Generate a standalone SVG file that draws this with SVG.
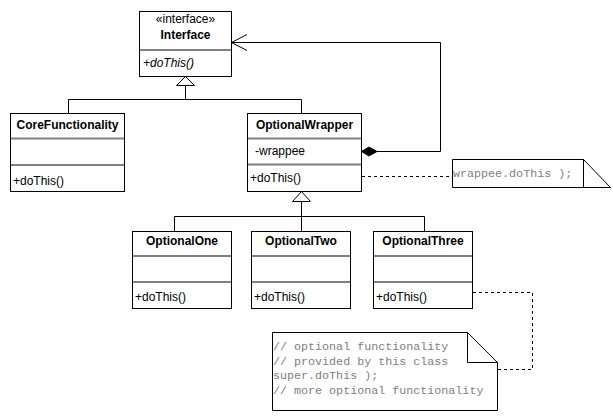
<svg xmlns="http://www.w3.org/2000/svg" width="613" height="420" viewBox="0 0 613 420">
<style>
.box{fill:#fff;stroke:#000;stroke-width:1}
.sep{stroke:#808080;stroke-width:2}
.t{font-family:"Liberation Sans",Arial,sans-serif;font-size:12px;fill:#000}
.b{font-weight:bold;text-anchor:middle}
.it{font-style:italic}
.ln{fill:none;stroke:#000;stroke-width:1}
.dash{fill:none;stroke:#000;stroke-width:1;stroke-dasharray:3,3}
.note{fill:#fff;stroke:#000;stroke-width:1}
.code{font-family:"Liberation Mono","Courier New",monospace;font-size:11.7px;fill:#808080}
</style>
<rect width="613" height="420" fill="#fff"/>
<g id="connectors">
<line class="ln" x1="185.5" y1="85" x2="185.5" y2="99.5"/>
<polyline class="ln" points="68.5,113 68.5,99.5 301.5,99.5 301.5,113"/>
<polygon points="185.5,76.5 176.5,85.5 194.5,85.5" fill="#fff" stroke="#000"/>
<polyline class="ln" points="377,151.5 440.5,151.5 440.5,42.5 231.5,42.5"/>
<polyline class="ln" points="247,34.5 231.5,42.5 247,50.5"/>
<polygon points="361.5,151.5 369,147 377,151.5 369,156" fill="#000" stroke="#000"/>
<line class="ln" x1="301.5" y1="201" x2="301.5" y2="231"/>
<polyline class="ln" points="174.5,231 174.5,216.5 424.5,216.5 424.5,231"/>
<polygon points="301.5,191.5 292.5,201.5 310.5,201.5" fill="#fff" stroke="#000"/>
<line class="dash" x1="362" y1="176.5" x2="452" y2="176.5"/>
<polyline class="dash" points="473,292.5 532.5,292.5 532.5,369.5 498,369.5"/>
</g>
<g id="interface">
<rect class="box" x="139.5" y="11.5" width="92" height="65"/>
<line class="sep" x1="140" y1="50" x2="231" y2="50"/>
<text class="t" x="185.5" y="23" text-anchor="middle">«interface»</text>
<text class="t b" x="185.5" y="39">Interface</text>
<text class="t it" x="143" y="67">+doThis()</text>
</g>
<g id="coreFunctionality">
<rect class="box" x="10.5" y="113.5" width="114" height="78"/>
<line class="sep" x1="11" y1="138.5" x2="124" y2="138.5"/>
<line class="sep" x1="11" y1="165" x2="124" y2="165"/>
<text class="t b" x="67.5" y="129">CoreFunctionality</text>
<text class="t" x="13" y="185">+doThis()</text>
</g>
<g id="optionalWrapper">
<rect class="box" x="247.5" y="113.5" width="114" height="78"/>
<line class="sep" x1="248" y1="138.5" x2="361" y2="138.5"/>
<line class="sep" x1="248" y1="164.5" x2="361" y2="164.5"/>
<text class="t b" x="304.5" y="129">OptionalWrapper</text>
<text class="t" x="255" y="155">-wrappee</text>
<text class="t" x="250" y="182">+doThis()</text>
</g>
<g id="note1">
<polygon class="note" points="452.5,159.5 583.5,159.5 610.5,187.5 452.5,187.5"/>
<polyline class="ln" points="583.5,159.5 583.5,187.5"/>
<text class="code" x="453" y="177">wrappee.doThis );</text>
</g>
<g id="optionalOne">
<rect class="box" x="132.5" y="231.5" width="99" height="77"/>
<line class="sep" x1="133" y1="256" x2="231" y2="256"/>
<line class="sep" x1="133" y1="282" x2="231" y2="282"/>
<text class="t b" x="182" y="245">OptionalOne</text>
<text class="t" x="135" y="301">+doThis()</text>
</g>
<g id="optionalTwo">
<rect class="box" x="251.5" y="231.5" width="99" height="77"/>
<line class="sep" x1="252" y1="256" x2="350" y2="256"/>
<line class="sep" x1="252" y1="282" x2="350" y2="282"/>
<text class="t b" x="301" y="245">OptionalTwo</text>
<text class="t" x="254" y="301">+doThis()</text>
</g>
<g id="optionalThree">
<rect class="box" x="373.5" y="231.5" width="99" height="77"/>
<line class="sep" x1="374" y1="256" x2="472" y2="256"/>
<line class="sep" x1="374" y1="282" x2="472" y2="282"/>
<text class="t b" x="423" y="245">OptionalThree</text>
<text class="t" x="376" y="301">+doThis()</text>
</g>
<g id="note2">
<polygon class="note" points="272.5,332.5 467.5,332.5 497.5,362.5 497.5,410.5 272.5,410.5"/>
<polyline class="ln" points="467.5,332.5 467.5,362.5 497.5,362.5"/>
<text class="code" x="273" y="350">// optional functionality</text>
<text class="code" x="273" y="364.5">// provided by this class</text>
<text class="code" x="273" y="379">super.doThis );</text>
<text class="code" x="273" y="393.5">// more optional functionality</text>
</g>
</svg>
